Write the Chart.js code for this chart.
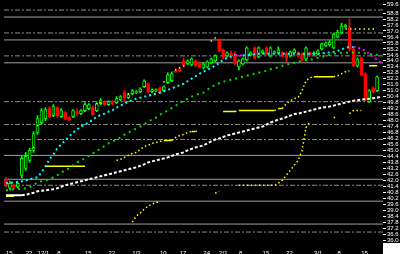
<!DOCTYPE html>
<html><head><meta charset="utf-8">
<style>html,body{margin:0;padding:0;background:#000;overflow:hidden}canvas{display:block}</style>
<script src="https://cdn.jsdelivr.net/npm/chart.js@4.4.1/dist/chart.umd.min.js"></script>
</head><body><canvas id="c" width="400" height="254"></canvas>
<script>
const tickLabels = ['15','22','12/1','8','15','22','1/3','10','17','24','2/1','8','15','22','3/1','8','15'];
const tickIndex  = [0,5,8,13,20,26,32,39,44,50,54,59,65,71,78,84,90];

const open = [42.1,41.2,41.5,41.3,42.5,43.2,44.0,45.0,46.8,47.8,
48.2,49.2,48.5,49.3,48.4,48.8,48.3,48.4,48.9,48.7,
49.0,49.2,49.3,49.0,49.7,49.9,49.6,49.9,49.8,50.1,
50.8,50.3,50.7,50.8,50.9,51.4,51.7,50.9,51.0,51.3,
51.0,51.8,52.0,53.0,53.2,54.0,53.7,53.6,54.0,53.8,
53.3,53.4,53.8,54.0,56.1,55.1,54.5,54.8,54.6,53.4,
53.7,54.1,54.6,55.3,54.4,54.8,55.3,54.5,54.8,54.8,
54.8,54.7,54.5,54.8,54.8,54.7,54.2,54.8,54.7,54.7,
55.2,55.5,55.6,55.3,56.4,56.8,57.4,57.4,55.2,53.5,
54.3,52.7,49.9,51.3,51.0,null];
const close = [41.5,41.7,41.3,41.7,44.2,44.4,45.0,46.7,48.2,49.0,
49.1,48.4,49.4,48.5,49.0,48.2,48.1,49.0,48.8,49.0,
49.6,49.6,48.6,49.7,50.0,49.6,49.9,49.7,50.2,50.4,
50.3,50.6,51.0,50.9,51.2,52.0,50.9,51.1,51.1,50.8,
51.4,52.6,52.7,52.9,53.0,53.6,54.0,54.2,53.5,53.4,
53.7,53.9,54.2,54.5,55.0,54.4,54.8,54.5,53.8,54.0,
54.2,55.3,54.8,54.3,55.3,55.0,54.7,55.3,54.9,55.1,
54.5,54.3,54.9,55.1,54.5,54.1,55.3,54.6,54.8,55.0,
55.7,55.8,55.9,56.7,56.9,57.5,57.6,55.2,53.5,54.2,
52.6,50.1,51.0,50.9,52.4,null];
const high = [42.3,41.9,41.6,41.8,44.4,44.8,45.2,46.9,48.5,49.2,
49.3,49.4,49.6,49.4,49.2,48.9,48.4,49.1,49.2,49.1,
49.8,49.7,49.5,49.8,50.2,50.0,50.0,50.0,50.4,50.5,
51.0,50.7,51.1,51.0,51.3,52.1,51.8,51.2,51.2,51.4,
51.5,52.8,52.9,53.1,53.3,54.3,54.1,54.3,54.1,53.9,
53.8,54.0,54.3,54.6,56.2,55.2,54.9,55.0,54.9,54.1,
54.3,55.4,54.9,55.4,55.4,55.1,55.4,55.4,55.0,55.4,
54.9,54.9,55.0,55.2,54.9,54.8,55.4,54.9,54.9,55.1,
55.8,55.9,56.0,56.8,57.1,57.8,57.7,58.2,55.3,54.3,
54.4,52.8,51.1,51.4,52.5,null];
const low = [41.3,41.0,41.1,41.2,42.2,43.0,43.8,44.8,46.6,47.6,
48.0,48.3,48.4,48.3,48.3,48.1,48.0,48.3,48.5,48.6,
48.9,49.1,48.5,48.9,49.6,49.5,49.5,49.6,49.7,50.0,
49.9,50.2,50.6,50.7,50.8,51.3,50.8,50.8,50.9,50.7,
50.9,51.7,51.9,52.8,52.9,53.4,53.6,53.5,53.4,53.3,
53.2,53.3,53.7,53.9,54.9,54.2,54.4,54.2,53.6,53.1,
53.6,54.0,54.5,54.2,54.3,54.7,54.6,54.4,54.7,54.7,
54.4,53.9,54.4,54.7,54.4,54.0,54.1,54.5,54.6,54.6,
55.1,55.4,55.5,55.2,56.3,56.7,57.3,55.0,53.4,53.4,
52.5,50.0,49.8,50.8,50.9,null];

const maFast = [41.7,41.75,41.8,41.85,41.9,42.0,42.1,42.2,42.3,42.8,
43.4,44.1,44.6,45.2,45.6,46.0,46.4,46.8,47.1,47.4,
47.6,47.8,48.1,48.4,48.55,48.7,48.9,49.05,49.3,49.5,
49.7,49.9,50.05,50.2,50.3,50.4,50.5,50.6,50.7,50.8,
50.95,51.1,51.2,51.4,51.55,51.7,51.95,52.2,52.45,52.7,
52.9,53.1,53.3,53.5,53.8,54.1,54.3,54.45,54.6,54.57,
54.54,54.57,54.6,54.65,54.7,54.7,54.7,54.7,54.7,54.7,
54.7,54.7,54.7,54.7,54.7,54.7,54.7,54.7,54.7,54.7,
54.75,54.8,54.85,54.9,55.0,55.15,55.3,55.4,55.4,55.35,
55.2,55.0,54.7,54.4,54.1,53.8];
const maMid = [41.0,41.05,41.1,41.1,41.15,41.2,41.3,41.5,41.8,41.9,
42.0,42.1,42.3,42.5,42.8,43.0,43.2,43.5,43.8,44.0,
44.2,44.45,44.7,44.95,45.2,45.45,45.7,45.9,46.1,46.3,
46.6,46.8,47.0,47.2,47.4,47.6,47.9,48.1,48.3,48.6,
48.8,49.0,49.25,49.5,49.75,50.0,50.2,50.4,50.55,50.7,
50.8,51.1,51.35,51.6,51.75,51.9,52.0,52.1,52.2,52.3,
52.4,52.5,52.6,52.7,52.8,52.9,53.0,53.15,53.25,53.35,
53.5,53.6,53.7,53.8,53.9,54.0,54.05,54.1,54.2,54.3,
54.4,54.5,54.6,54.7,54.75,54.8,54.8,54.85,54.85,54.85,
54.8,54.75,54.7,54.65,54.6,54.55];
const maSlow = [40.5,40.5,40.5,40.5,40.5,40.55,40.65,40.75,40.9,40.95,
41.0,41.05,41.1,41.2,41.35,41.5,41.6,41.7,41.8,41.9,
42.0,42.1,42.2,42.3,42.4,42.5,42.6,42.7,42.8,42.9,
43.0,43.1,43.2,43.3,43.45,43.6,43.8,43.9,44.0,44.1,
44.2,44.3,44.45,44.6,44.7,44.8,45.0,45.15,45.3,45.4,
45.5,45.7,45.9,46.1,46.2,46.35,46.5,46.6,46.7,46.8,
46.9,47.0,47.1,47.2,47.3,47.4,47.6,47.8,47.95,48.1,
48.2,48.35,48.5,48.65,48.7,48.8,48.9,49.0,49.1,49.2,
49.3,49.35,49.4,49.5,49.6,49.7,49.8,49.9,50.0,50.05,
50.1,50.15,50.2,50.25,50.3,50.4];
const yellowStep = [40.4,40.4,40.4,null,null,null,null,null,null,null,
43.4,43.4,43.4,43.4,43.4,43.4,43.4,43.4,43.4,43.4,
43.4,null,null,null,null,null,null,null,44.0,44.1,
44.3,44.5,44.7,44.8,45.1,45.4,45.5,45.7,45.8,45.9,
46.0,46.0,46.0,46.3,46.5,46.6,46.8,46.9,46.9,47.0,
null,null,null,null,null,48.9,48.9,48.9,48.9,49.0,
49.0,49.0,49.0,49.0,49.0,49.0,49.0,49.0,49.0,49.2,
49.2,49.7,50.0,50.2,50.3,51.0,52.0,52.3,52.4,52.4,
52.4,52.4,52.4,52.4,52.5,52.7,52.9,53.0,null,null,
null,null,53.5,53.5,53.5,null];
const yellowLow = [null,null,null,null,null,null,null,null,null,null,
null,null,null,null,null,null,null,null,null,null,
null,null,null,null,null,null,null,null,null,null,
null,null,37.8,38.4,38.7,39.1,39.4,39.6,39.8,39.8,
null,null,null,null,null,null,null,null,null,null,
null,null,null,40.7,40.9,null,null,null,null,41.5,
41.5,41.5,41.5,41.5,41.5,41.5,41.5,41.5,41.5,41.7,
42.0,42.5,43.0,43.5,44.0,45.0,47.3,47.9,null,null,
null,null,null,48.3,48.3,null,null,48.7,49.0,49.0,
49.0,null,null,null,null,null];
const yellowTop = [null,null,null,null,null,null,null,null,null,null,
null,null,null,null,null,null,null,null,null,null,
null,null,null,null,null,null,null,null,null,null,
null,null,null,null,null,null,null,null,null,null,
null,null,null,null,null,null,null,null,null,null,
null,null,null,null,null,null,null,null,null,null,
null,null,null,null,null,null,null,null,null,null,
null,null,null,null,null,null,null,null,null,null,
null,null,null,null,null,null,57.2,57.2,57.2,57.2,
57.2,57.2,57.2,57.2,57.2,null];
const sarDots = [null,null,null,null,null,null,null,45.3,47.5,null,
null,null,null,null,null,null,null,null,null,null,
null,null,null,49.7,49.8,null,null,null,null,null,
null,50.7,null,null,null,null,null,null,null,null,
51.9,null,null,53.1,53.3,53.5,null,null,null,null,
null,null,56.0,56.3,null,null,null,null,null,null,
null,null,null,null,null,null,null,null,null,null,
null,null,null,null,null,null,null,null,null,null,
null,null,null,null,null,null,null,null,null,null,
null,null,null,null,null,null];

const solidLevels = [58.4,56.1,53.8,44.5,42.1,39.9,37.6];
const dashLevels  = [59.1,56.8,54.5,49.9,47.6,46.1,41.5,36.8];

const N = open.length;
const categories = Array.from({length:N}, (_, i) => { const k = tickIndex.indexOf(i); return k >= 0 ? tickLabels[k] : ''; });
const RED = '#ff0000', GREEN = '#00ff00';
const isUp = open.map((o, i) => o !== null && close[i] >= o);

const levelSets = [];
solidLevels.forEach(v => levelSets.push({type:'line', xAxisID:'xl', data:[{x:0,y:v},{x:1,y:v}], borderColor:'#a0a0a0', borderWidth:1, pointRadius:0, order:20}));
dashLevels.forEach(v => levelSets.push({type:'line', xAxisID:'xl', data:[{x:0,y:v},{x:1,y:v}], borderColor:'#8c8c8c', borderWidth:1, borderDash:[5,2,2,2], pointRadius:0, order:20}));

const flatSolid = (dash) => ({ borderDash: ctx => ctx.p0.parsed.y === ctx.p1.parsed.y ? [] : dash });

const bg = {
  id: 'bg',
  beforeDraw(c) { const x = c.ctx; x.save(); x.fillStyle = '#000'; x.fillRect(0, 0, c.width, c.height); x.restore(); },
  afterDraw(c) { const x = c.ctx; x.save(); x.fillStyle = '#fff'; x.fillRect(c.chartArea.right, 243, c.width - c.chartArea.right, c.height - 243); x.restore(); }
};

new Chart(document.getElementById('c'), {
  data: {
    labels: categories,
    datasets: [
      {type:'bar', data: low.map((l, i) => l === null ? null : [l, high[i]]), backgroundColor: isUp.map(u => u ? GREEN : RED), barThickness:1, grouped:false, order:6},
      {type:'bar', data: open.map((o, i) => o === null ? null : [o, close[i]]), backgroundColor: isUp.map(u => u ? '#000' : RED), borderColor: isUp.map(u => u ? GREEN : RED), borderWidth:1, borderSkipped:false, barThickness:3, grouped:false, order:5},
      {type:'line', data: maFast, borderColor:'#00ffff', borderWidth:2, borderDash:[2,3], pointRadius:0, order:1,
        segment:{ borderColor: ctx => ctx.p1.parsed.y < ctx.p0.parsed.y ? '#ff00ff' : '#00ffff' }},
      {type:'line', data: maMid, borderColor:'#00dd00', borderWidth:2, borderDash:[2,4], pointRadius:0, order:2},
      {type:'line', data: maSlow, borderColor:'#ffffff', borderWidth:2, borderDash:[3,2], pointRadius:0, order:2, segment: flatSolid([3,2])},
      {type:'line', data: yellowStep, borderColor:'#ffff00', borderWidth:1.5, pointRadius:0, order:3, segment: flatSolid([1.5,2.5])},
      {type:'line', data: yellowLow, borderColor:'#ffff00', borderWidth:1.5, borderDash:[1.5,2.5], pointRadius:0, order:3},
      {type:'line', data: yellowTop, borderColor:'#ffff00', borderWidth:1.5, borderDash:[1.5,3], pointRadius:0, order:3},
      {type:'line', data: sarDots, showLine:false, pointStyle:'rect', pointRadius:1, pointBackgroundColor:'#ffff00', pointBorderWidth:0, order:3},
      ...levelSets
    ]
  },
  options: {
    responsive:false, animation:false, devicePixelRatio:1,
    layout:{padding:0},
    plugins:{legend:{display:false}, tooltip:{enabled:false}},
    scales:{
      x:{type:'category', offset:true, grid:{display:false}, border:{display:false},
        ticks:{autoSkip:false, maxRotation:0, align:'start', padding:2, color:'#fff', font:{family:'Liberation Sans', size:6},
          callback(v){ return this.getLabelForValue(v); }},
        afterFit(s){ s.height = 14; }},
      xl:{type:'linear', min:0, max:1, display:false},
      y:{type:'linear', position:'right', min:36, max:59.65,
        grid:{drawOnChartArea:false, drawTicks:true, tickLength:3, color:'#ffffff'}, border:{display:false},
        ticks:{stepSize:0.6, autoSkip:false, padding:1, color:'#fff', font:{family:'Liberation Sans', size:6},
          callback: v => v.toFixed(1)},
        afterFit(s){ s.width = 17; }}
    }
  },
  plugins:[bg]
});
</script></body></html>
